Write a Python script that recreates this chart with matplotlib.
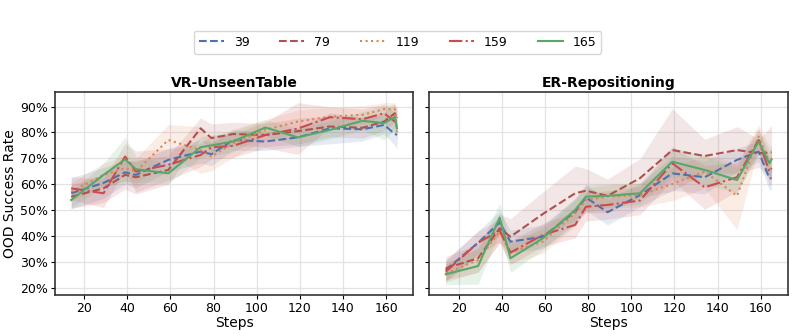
import numpy as np
import matplotlib
matplotlib.use("Agg")
import matplotlib.pyplot as plt
from matplotlib.ticker import PercentFormatter

# ── data ──────────────────────────────────────────────────────────
steps = [14, 29, 39, 44, 59, 74, 79, 89, 104, 119, 134, 149, 159, 164, 165]
labels = ["39", "79", "119", "159", "165"]
colors = ["#4C72B0", "#B0504F", "#DD8452", "#CC4A50", "#55A868"]
styles = ["--", "--", ":", "-.", "-"]

# VR-UnseenTable: mean success rate (%) per run
vr_mean = {
    "39":  [56.5, 60.5, 64.6, 63.6, 69.4, 72.6, 71.6, 77.1, 76.5, 78.1, 81.6, 81.2, 82.9, 79.5, 79.0],
    "79":  [55.2, 58.4, 63.6, 62.7, 65.5, 81.6, 77.8, 79.4, 79.0, 80.5, 82.3, 81.8, 84.2, 87.4, 85.5],
    "119": [57.1, 63.6, 66.2, 64.9, 77.1, 73.2, 70.7, 75.8, 81.0, 84.2, 86.1, 86.8, 89.0, 89.0, 79.5],
    "159": [58.4, 56.5, 70.7, 64.9, 67.5, 71.3, 74.3, 74.8, 79.0, 81.5, 85.9, 85.1, 87.4, 84.2, 86.0],
    "165": [53.9, 63.6, 69.6, 65.8, 64.2, 74.3, 75.0, 76.5, 81.9, 78.1, 81.0, 84.5, 83.6, 86.0, 81.6],
}
vr_spread = {
    "39":  [6.0, 6.0, 4.5, 5.0, 4.5, 4.5, 4.5, 4.0, 3.5, 3.5, 6.0, 4.5, 3.5, 4.5, 5.5],
    "79":  [4.5, 5.5, 5.5, 6.5, 5.5, 4.0, 5.5, 4.5, 4.5, 5.0, 4.0, 4.0, 3.5, 3.5, 4.0],
    "119": [3.5, 4.5, 5.0, 5.0, 6.0, 9.0, 5.5, 5.5, 4.0, 4.5, 3.5, 3.5, 2.5, 2.5, 3.0],
    "159": [4.5, 5.5, 5.0, 8.0, 6.0, 4.5, 4.5, 4.5, 5.0, 10.0, 4.0, 4.0, 3.5, 3.5, 4.5],
    "165": [3.0, 4.5, 8.5, 5.0, 4.0, 4.0, 4.0, 4.0, 3.0, 3.5, 3.5, 3.5, 6.5, 5.0, 5.0],
}

# ER-Repositioning
er_mean = {
    "39":  [26.9, 37.4, 45.2, 37.8, 39.7, 49.4, 54.9, 49.2, 55.8, 64.2, 62.7, 69.4, 72.6, 62.3, 62.3],
    "79":  [27.5, 31.4, 43.0, 39.7, 48.5, 56.5, 57.5, 55.5, 62.3, 73.2, 70.9, 73.2, 72.0, 72.2, 72.3],
    "119": [25.6, 30.7, 41.7, 33.6, 37.8, 48.8, 53.9, 55.2, 55.8, 60.1, 64.9, 55.5, 78.4, 68.7, 68.1],
    "159": [26.2, 37.4, 42.1, 33.6, 40.4, 44.3, 51.3, 52.0, 53.7, 68.1, 58.8, 62.7, 77.1, 64.9, 66.2],
    "165": [25.2, 28.4, 47.1, 31.4, 39.1, 50.1, 55.2, 55.5, 56.5, 68.7, 65.5, 61.6, 76.5, 68.1, 69.6],
}
er_spread = {
    "39":  [4.0, 4.5, 4.5, 4.5, 4.5, 5.0, 5.0, 5.0, 4.5, 6.5, 6.5, 4.5, 4.0, 4.5, 4.5],
    "79":  [4.5, 5.5, 5.5, 7.0, 8.5, 10.5, 8.5, 6.5, 7.5, 16.0, 6.5, 9.0, 5.5, 9.5, 10.5],
    "119": [3.5, 4.5, 4.5, 4.5, 4.5, 5.0, 4.5, 4.5, 4.5, 6.5, 6.5, 13.0, 4.5, 6.5, 6.5],
    "159": [4.0, 4.5, 4.5, 4.5, 4.5, 5.0, 5.5, 5.5, 5.5, 6.5, 8.5, 5.5, 4.5, 5.5, 5.5],
    "165": [4.0, 7.0, 5.5, 5.5, 4.5, 4.5, 4.5, 4.5, 4.0, 5.5, 5.5, 5.0, 4.5, 5.0, 5.0],
}

panels = [("VR-UnseenTable", vr_mean, vr_spread),
          ("ER-Repositioning", er_mean, er_spread)]

plt.rcParams['font.family'] = ['DejaVu Sans']

fig, axes = plt.subplots(1, 2, figsize=(7.95, 3.36), dpi=100, sharey=True)
fig.subplots_adjust(left=0.069, right=0.991, bottom=0.122, top=0.726, wspace=0.045)

x = np.array(steps)
for ax, (title, mean, spread) in zip(axes, panels):
    for lbl, col, ls in zip(labels, colors, styles):
        m = np.array(mean[lbl])
        s = np.array(spread[lbl])
        ax.fill_between(x, m - s, m + s, color=col, alpha=0.14, lw=0)
        ax.plot(x, m, color=col, ls=ls, lw=1.5, label=lbl)
    ax.set_title(title, fontsize=10, fontweight='bold', pad=4)
    ax.set_xlabel("Steps", fontsize=10, labelpad=1)
    ax.grid(True, color='#e3e3e3', lw=0.9)
    ax.set_axisbelow(True)
    ax.set_xticks(range(20, 161, 20))
    ax.tick_params(labelsize=9, length=3, pad=2)
    for sp in ax.spines.values():
        sp.set_color('#333333')
        sp.set_linewidth(1.2)

axes[0].set_ylabel("OOD Success Rate", fontsize=10, labelpad=2)
axes[0].yaxis.set_major_formatter(PercentFormatter(decimals=0))
axes[0].set_yticks(range(20, 91, 10))
axes[0].set_ylim(17.2, 95.6)

handles, lbls = axes[0].get_legend_handles_labels()
fig.legend(handles, lbls, loc='center', bbox_to_anchor=(0.5, 0.875), ncol=5,
           fontsize=9, frameon=True, handlelength=2.0, columnspacing=2.4,
           handletextpad=0.8, borderpad=0.4, edgecolor='#cccccc')

fig.savefig("out.png", dpi=100)
